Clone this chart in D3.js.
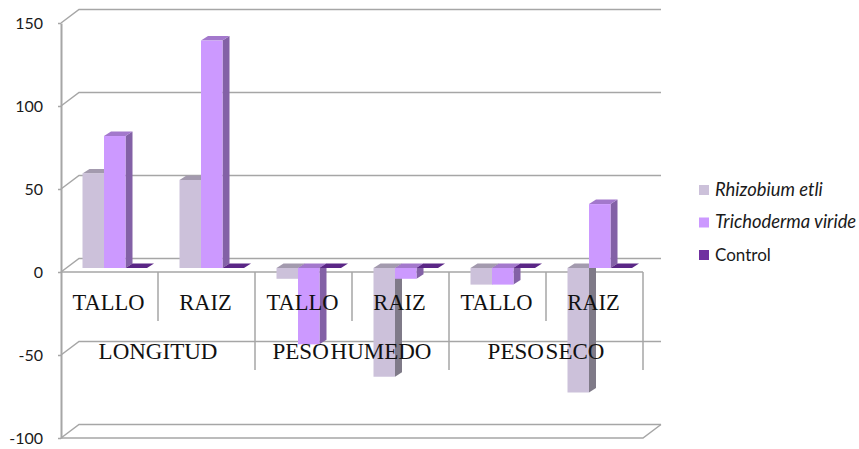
<!DOCTYPE html>
<html>
<head>
<meta charset="utf-8">
<script src="https://cdn.jsdelivr.net/npm/d3@7"></script>
<style>
html, body { margin: 0; padding: 0; background: #fff; }
svg { display: block; }
</style>
</head>
<body>
<svg id="chart" width="859" height="449"></svg>
<script>
var groups = ['LONGITUD', 'PESO HUMEDO', 'PESO SECO'];
var categories = ['TALLO', 'RAIZ', 'TALLO', 'RAIZ', 'TALLO', 'RAIZ'];
var seriesNames = ['Rhizobium etli', 'Trichoderma viride', 'Control'];
var rhizobium = [57, 53, -6.5, -65.5, -10, -75];
var trichoderma = [79.5, 137, -46, -6.5, -10, 38.5];
var control = [0, 0, 0, 0, 0, 0];
var yTicks = [150, 100, 50, 0, -50, -100];

var seriesValues = [rhizobium, trichoderma, control];
var frontColors = ['#ccc1da', '#cc99ff', '#7030a0'];
var sideColors = ['#7f7a88', '#8361a6', '#4b206c'];
var topColors = ['#a39aae', '#a378cc', '#5a2686'];

var svg = d3.select('#chart');
var GRID = '#a6a6a6';
var wallDx = 18, wallDy = -13.5; // 3d offset of the back wall
var depthX = 7, depthY = -4.5; // bar depth
var baseShift = -4; // bars stand a bit behind the front axis

var y = d3.scaleLinear().domain([-100, 150]).range([438, 23]);
var x = d3.scaleBand().domain(d3.range(categories.length)).range([61, 643]);
var xSeries = d3.scaleBand().domain(d3.range(3)).range([21.5, 86]);

// walls
var grid = svg.append('g').attr('fill', 'none').attr('stroke', GRID).attr('stroke-width', 1.5);
yTicks.forEach(function(t) {
	var p = d3.path();
	p.moveTo(61, y(t));
	p.lineTo(61 + wallDx, y(t) + wallDy);
	p.lineTo(643 + wallDx, y(t) + wallDy);
	grid.append('path').attr('d', p.toString());
});
// floor
var floor = d3.path();
floor.moveTo(61, y(-100));
floor.lineTo(643, y(-100));
floor.lineTo(643 + wallDx, y(-100) + wallDy);
grid.append('path').attr('d', floor.toString());

// left axis
var axis = svg.append('g')
	.attr('transform', 'translate(61,0)')
	.call(d3.axisLeft(y).tickValues(yTicks).tickFormat(d3.format('d')).tickSize(3).tickPadding(15).tickSizeOuter(0));
axis.select('.domain').attr('stroke', GRID).attr('stroke-width', 2);
axis.selectAll('.tick line').attr('stroke', GRID).attr('stroke-width', 1.5);
axis.selectAll('.tick text')
	.text(function(d) { return String(d); }) // plain hyphen, like the original
	.attr('font-family', 'Lato')
	.attr('font-size', 16)
	.attr('fill', '#1a1a1a');

// front axis with the label row ticks, the bars go over it
var front = svg.append('g').attr('stroke', GRID).attr('stroke-width', 1.5);
front.append('line')
	.attr('x1', 61).attr('x2', 643)
	.attr('y1', y(0)).attr('y2', y(0));
d3.range(1, categories.length + 1).forEach(function(i) {
	var xx = i == categories.length ? 643 : x(i);
	front.append('line')
		.attr('x1', xx).attr('x2', xx)
		.attr('y1', y(0))
		.attr('y2', i % 2 == 0 ? 370 : 321);
});

// bars, left to right so the next front face hides the side face
var bars = svg.append('g');
function drawBar(cat, s) {
	var v = seriesValues[s][cat];
	var x0 = x(cat) + xSeries(s);
	var x1 = x0 + xSeries.bandwidth();
	var yBase = y(0) + baseShift;
	var yVal = y(v) + baseShift;
	var yTop = Math.min(yBase, yVal);
	var yBot = Math.max(yBase, yVal);

	bars.append('path')
		.attr('fill', sideColors[s])
		.attr('d', 'M' + x1 + ',' + yTop + 'L' + (x1 + depthX) + ',' + (yTop + depthY) +
			'L' + (x1 + depthX) + ',' + (yBot + depthY) + 'L' + x1 + ',' + yBot + 'Z');
	bars.append('path')
		.attr('fill', topColors[s])
		.attr('d', 'M' + x0 + ',' + yTop + 'L' + (x0 + depthX) + ',' + (yTop + depthY) +
			'L' + (x1 + depthX) + ',' + (yTop + depthY) + 'L' + x1 + ',' + yTop + 'Z');
	bars.append('rect')
		.attr('x', x0).attr('y', yTop)
		.attr('width', x1 - x0).attr('height', yBot - yTop)
		.attr('fill', frontColors[s]);
}
categories.forEach(function(c, i) {
	[0, 1, 2].forEach(function(s) { drawBar(i, s); });
});

var labels = svg.append('g')
	.attr('font-family', 'Liberation Serif')
	.attr('fill', '#111')
	.attr('text-anchor', 'middle');
categories.forEach(function(c, i) {
	labels.append('text')
		.attr('x', x(i) + x.bandwidth() / 2 - 1)
		.attr('y', 310)
		.attr('font-size', 22.5)
		.text(c);
});
groups.forEach(function(g, i) {
	labels.append('text')
		.attr('x', x(i * 2 + 1))
		.attr('y', 359)
		.attr('font-size', 23)
		.attr('word-spacing', -4)
		.text(g);
});

// legend
var legendY = d3.scalePoint().domain(d3.range(3)).range([190, 255]);
var legend = svg.append('g');
seriesNames.forEach(function(name, i) {
	legend.append('rect')
		.attr('x', 699).attr('y', legendY(i) - 5)
		.attr('width', 10).attr('height', 10)
		.attr('fill', frontColors[i]);
	legend.append('text')
		.attr('x', 715).attr('y', legendY(i) + 5.5)
		.attr('font-family', 'Lato')
		.attr('font-size', i < 2 ? 18.4 : 17)
		.attr('font-style', i < 2 ? 'italic' : 'normal')
		.attr('fill', '#1a1a1a')
		.text(name);
});
</script>
</body>
</html>
